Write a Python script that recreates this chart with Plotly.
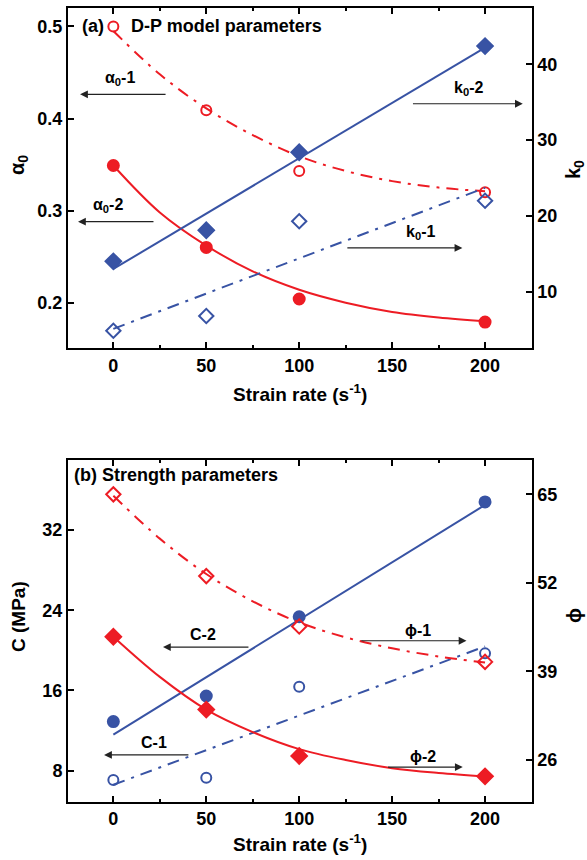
import plotly.graph_objects as go

# ---------------- data ----------------
strain = [0, 50, 100, 200]
fit_x = [0, 25, 50, 75, 100, 125, 150, 175, 200]
lin_x = [0, 200]

# panel (a)
alpha0_1 = [0.500, 0.409, 0.343, 0.320]
alpha0_1_fit = [0.495, 0.448, 0.411, 0.382, 0.359, 0.343, 0.332, 0.325, 0.321]
alpha0_2 = [0.349, 0.260, 0.204, 0.179]
alpha0_2_fit = [0.349, 0.298, 0.262, 0.234, 0.214, 0.200, 0.190, 0.184, 0.180]
k0_2 = [14.0, 18.1, 28.4, 42.4]
k0_2_fit = [13.0, 42.2]
k0_1 = [4.85, 6.8, 19.3, 22.0]
k0_1_fit = [5.1, 23.7]

# panel (b)
C_2 = [12.9, 15.45, 23.35, 34.8]
C_2_fit = [11.6, 34.5]
C_1 = [7.07, 7.3, 16.37, 19.7]
C_1_fit = [6.6, 20.4]
phi_1 = [65.0, 53.0, 45.6, 40.4]
phi_1_fit = [64.8, 58.5, 53.3, 49.3, 46.2, 44.0, 42.4, 41.2, 40.3]
phi_2 = [44.1, 33.4, 26.6, 23.6]
phi_2_fit = [44.1, 38.2, 33.4, 30.1, 27.6, 26.0, 24.8, 24.1, 23.6]

RED = "#ED1C24"
BLUE = "#3853A4"
FONT = "Liberation Sans, Arial, sans-serif"
DASHDOT = "12px,7px,3px,7px"

W, H = 587, 860


def px(xp):
    return xp / W


def py(yp):
    return 1 - yp / H


fig = go.Figure()


def line(x, y, color, dash, xa, ya, spline=False):
    fig.add_trace(go.Scatter(
        x=x, y=y, mode="lines", xaxis=xa, yaxis=ya,
        line=dict(color=color, width=2, dash=dash,
                  shape="spline" if spline else "linear"),
        hoverinfo="skip"))


def marks(x, y, color, symbol, xa, ya, size=11):
    fig.add_trace(go.Scatter(
        x=x, y=y, mode="markers", xaxis=xa, yaxis=ya,
        marker=dict(color=color, symbol=symbol, size=size,
                    line=dict(color=color, width=2))))


# panel (a)
line(fit_x, alpha0_1_fit, RED, DASHDOT, "x", "y", True)
line(fit_x, alpha0_2_fit, RED, "solid", "x", "y", True)
line(lin_x, k0_2_fit, BLUE, "solid", "x", "y2")
line(lin_x, k0_1_fit, BLUE, DASHDOT, "x", "y2")
marks(strain, alpha0_1, RED, "circle-open", "x", "y", 10)
marks(strain, alpha0_2, RED, "circle", "x", "y", 11)
marks(strain, k0_2, BLUE, "diamond", "x", "y2", 12)
marks(strain, k0_1, BLUE, "diamond-open", "x", "y2", 11)

# panel (b)
line(lin_x, C_2_fit, BLUE, "solid", "x2", "y3")
line(lin_x, C_1_fit, BLUE, DASHDOT, "x2", "y3")
line(fit_x, phi_1_fit, RED, DASHDOT, "x2", "y4", True)
line(fit_x, phi_2_fit, RED, "solid", "x2", "y4", True)
marks(strain, C_2, BLUE, "circle", "x2", "y3", 11)
marks(strain, C_1, BLUE, "circle-open", "x2", "y3", 10)
marks(strain, phi_1, RED, "diamond-open", "x2", "y4", 11)
marks(strain, phi_2, RED, "diamond", "x2", "y4", 12)

axis_common = dict(showline=True, linecolor="black", linewidth=2,
                   ticks="inside", ticklen=6, tickwidth=2, tickcolor="black",
                   showgrid=False, zeroline=False,
                   tickfont=dict(family=FONT, size=18, color="black", weight="bold"))

xdom = [px(68), px(531.7)]
xa = dict(axis_common, domain=xdom, range=[-24.4, 225.1],
          tickvals=[0, 50, 100, 150, 200], mirror="ticks",
          minor=dict(tickvals=[25, 75, 125, 175, 225], ticklen=3, tickwidth=1.5,
                     ticks="inside", tickcolor="black"))

fig.update_layout(
    width=W, height=H, margin=dict(l=0, r=0, t=0, b=0),
    paper_bgcolor="white", plot_bgcolor="white", showlegend=False,
    xaxis=dict(xa, anchor="y"),
    yaxis=dict(axis_common, domain=[py(348), py(8)], range=[0.1508, 0.520],
               tickvals=[0.2, 0.3, 0.4, 0.5], ticktext=["0.2", "0.3", "0.4", "0.5"],
               anchor="x"),
    yaxis2=dict(axis_common, range=[2.57, 47.43], tickvals=[10, 20, 30, 40],
                overlaying="y", side="right", anchor="x"),
    xaxis2=dict(xa, anchor="y3"),
    yaxis3=dict(axis_common, domain=[py(801.7), py(460)], range=[4.91, 38.98],
                tickvals=[8, 16, 24, 32], anchor="x2"),
    yaxis4=dict(axis_common, range=[19.88, 70.04], tickvals=[26, 39, 52, 65],
                overlaying="y3", side="right", anchor="x2"),
)

ann = []


def text(x, y, s, size=18, xanchor="center", angle=0):
    ann.append(dict(x=px(x), y=py(y), xref="paper", yref="paper", text=s,
                    showarrow=False, xanchor=xanchor, yanchor="middle",
                    textangle=angle,
                    font=dict(family=FONT, size=size, color="black", weight="bold")))


def arrow(x_tail, x_head, y, xr, yr):
    ann.append(dict(x=x_head, y=y, ax=x_tail, ay=y, xref=xr, yref=yr,
                    axref=xr, ayref=yr, text="", showarrow=True,
                    arrowhead=2, arrowsize=1.3, arrowwidth=1.2, arrowcolor="#222222"))


def label(x, y, s, xr, yr):
    ann.append(dict(x=x, y=y, xref=xr, yref=yr, text=s, showarrow=False,
                    xanchor="center", yanchor="middle",
                    font=dict(family=FONT, size=16, color="black", weight="bold")))


# panel titles
text(80, 26, "(a)", xanchor="left")
text(129, 26, "D-P model parameters", xanchor="left")
text(72, 475, "(b) Strength parameters", xanchor="left")

# axis titles
text(18, 165, "α<sub>0</sub>", size=20, angle=-90)
text(574, 170, "k<sub>0</sub>", size=20, angle=-90)
text(300, 393, "Strain rate (s<sup>-1</sup>)", size=19)
text(18, 617, "C (MPa)", size=19, angle=-90)
text(574, 616, "ϕ", size=20, angle=-90)
text(300, 843, "Strain rate (s<sup>-1</sup>)", size=19)

# arrows panel (a)
arrow(28.9, -17.9, 0.4263, "x", "y")
label(3.6, 0.443, "α<sub>0</sub>-1", "x", "y")
arrow(22.4, -19.0, 0.288, "x", "y")
label(-3.1, 0.305, "α<sub>0</sub>-2", "x", "y")
arrow(160.4, 220.3, 0.416, "x", "y")
label(191, 0.433, "k<sub>0</sub>-2", "x", "y")
arrow(125.1, 187.8, 0.2595, "x", "y")
label(165.4, 0.276, "k<sub>0</sub>-1", "x", "y")

# arrows panel (b)
arrow(73.5, 26.7, 20.33, "x2", "y3")
label(48.2, 21.6, "C-2", "x2", "y3")
arrow(41.2, -5.0, 9.57, "x2", "y3")
label(21.9, 10.8, "C-1", "x2", "y3")
arrow(132.6, 190.0, 20.96, "x2", "y3")
label(163.8, 22.0, "ϕ-1", "x2", "y3")
arrow(147.0, 188.0, 8.36, "x2", "y3")
label(166.5, 9.4, "ϕ-2", "x2", "y3")

fig.update_layout(annotations=ann)
fig.write_html("out.html")
